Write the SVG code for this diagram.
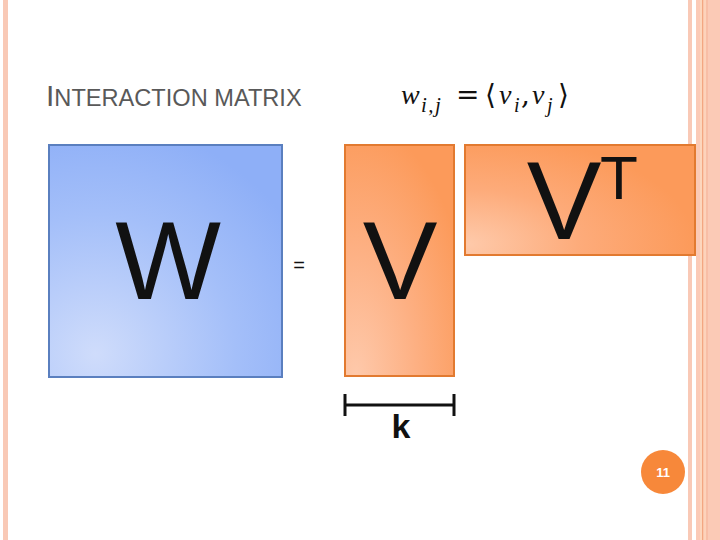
<svg xmlns="http://www.w3.org/2000/svg" width="720" height="540" viewBox="0 0 720 540">
<style>
.big{font-family:"Liberation Sans",Arial,sans-serif;fill:#111;}
.math{font-family:"Liberation Serif","DejaVu Serif",serif;font-style:italic;fill:#111;}
.mathr{font-family:"DejaVu Serif","Liberation Serif",serif;fill:#111;}
</style>
<defs>
<radialGradient id="gW" cx="0.2" cy="0.9" r="1" fx="0.2" fy="0.9">
<stop offset="0" stop-color="#cfdcfb"/>
<stop offset="0.6" stop-color="#a4bff9"/>
<stop offset="1" stop-color="#8eaff7"/>
</radialGradient>
<radialGradient id="gV" cx="0.1" cy="1" r="1.1" fx="0.1" fy="1">
<stop offset="0" stop-color="#fec9ab"/>
<stop offset="0.5" stop-color="#fdb083"/>
<stop offset="1" stop-color="#fc9a5a"/>
</radialGradient>
<radialGradient id="gVT" cx="0" cy="0.9" r="1" fx="0" fy="0.9">
<stop offset="0" stop-color="#fecaab"/>
<stop offset="0.5" stop-color="#fdab7a"/>
<stop offset="1" stop-color="#fc9a5a"/>
</radialGradient>
</defs>
<rect width="720" height="540" fill="#fff"/>
<g id="borders">
<rect x="3" y="0" width="5" height="540" fill="#f9c9b6"/>
<rect x="688" y="0" width="4" height="540" fill="#f9c9b6"/>
<rect x="696" y="0" width="24" height="540" fill="#fbcab6"/>
<rect x="700" y="0" width="2" height="540" fill="#fdd6bd"/>
<rect x="702" y="0" width="1.5" height="540" fill="#f3a781"/>
<rect x="703.5" y="0" width="3" height="540" fill="#fdd3bb"/>
<rect x="706" y="0" width="2" height="540" fill="#f8bea6"/>
</g>
<g id="title">
<text x="46" y="106" font-family="'Liberation Sans',Arial,sans-serif" fill="#595959"><tspan font-size="30">I</tspan><tspan font-size="23.6">NTERACTION MATRIX</tspan></text>
</g>
<g id="formula">
<text class="math" x="401" y="104" font-size="28">w</text>
<text class="math" x="421" y="112" font-size="21" letter-spacing="1.5">i,j</text>
<text class="mathr" x="456" y="104" font-size="28">=</text>
<text class="mathr" x="485" y="104" font-size="28">⟨</text>
<text class="math" x="499" y="104" font-size="28">v</text>
<text class="math" x="514" y="112" font-size="20">i</text>
<text class="mathr" x="521" y="104" font-size="28">,</text>
<text class="math" x="532" y="104" font-size="28">v</text>
<text class="math" x="547" y="112" font-size="20">j</text>
<text class="mathr" x="558" y="104" font-size="28">⟩</text>
</g>
<g id="W">
<rect x="49" y="145" width="233" height="232" fill="url(#gW)" stroke="#5a7fbf" stroke-width="2"/>
<text class="big" x="168" y="299" font-size="112" text-anchor="middle">W</text>
</g>
<g id="eq">
<text class="big" x="299" y="272" font-size="20" text-anchor="middle">=</text>
</g>
<g id="V">
<rect x="345" y="145" width="109" height="231" fill="url(#gV)" stroke="#e27a30" stroke-width="2"/>
<text class="big" x="400" y="299" font-size="112" text-anchor="middle">V</text>
</g>
<g id="VT">
<rect x="465" y="145" width="230" height="110" fill="url(#gVT)" stroke="#e27a30" stroke-width="2"/>
<text class="big" x="564" y="239" font-size="112" text-anchor="middle">V</text>
<text class="big" x="600" y="199" font-size="62">T</text>
</g>
<g id="connectors">
<line x1="345" y1="405" x2="454" y2="405" stroke="#111" stroke-width="3"/>
<line x1="345" y1="394" x2="345" y2="416" stroke="#111" stroke-width="3"/>
<line x1="454" y1="394" x2="454" y2="416" stroke="#111" stroke-width="3"/>
</g>
<g id="k">
<text class="big" x="401" y="438" font-size="34" font-weight="bold" text-anchor="middle">k</text>
</g>
<g id="page">
<circle cx="663" cy="472" r="22" fill="#f7883a"/>
<text x="663" y="477" font-family="'Liberation Sans',Arial,sans-serif" font-size="13" font-weight="bold" fill="#fff" text-anchor="middle">11</text>
</g>
</svg>
